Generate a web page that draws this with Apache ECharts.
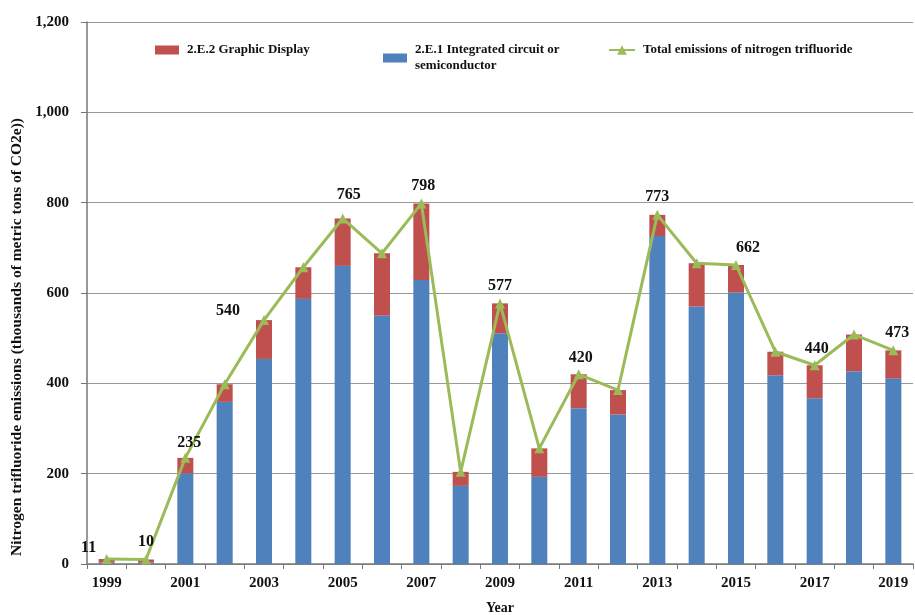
<!DOCTYPE html>
<html>
<head>
<meta charset="utf-8">
<script src="https://cdn.jsdelivr.net/npm/echarts@6/dist/echarts.min.js"></script>
<style>
  html, body { margin: 0; padding: 0; background: #fff; }
  #chart { width: 915px; height: 615px; }
</style>
</head>
<body>
<div id="chart"></div>
<script>
// years on the x axis
const years = ['1999', '2000', '2001', '2002', '2003', '2004', '2005', '2006', '2007', '2008', '2009',
  '2010', '2011', '2012', '2013', '2014', '2015', '2016', '2017', '2018', '2019']
// 2.E.1 Integrated circuit or semiconductor
const semiconductor = [3, 3, 201, 359, 454, 587, 660, 550, 629, 173, 511,
  193, 345, 331, 726, 570, 601, 418, 367, 427, 411]
// 2.E.2 Graphic Display
const graphicDisplay = [8, 7, 34, 39, 86, 70, 105, 138, 169, 31, 66,
  63, 75, 54, 47, 96, 61, 52, 73, 81, 62]
// total emissions of NF3
const totals = [11, 10, 235, 398, 540, 657, 765, 688, 798, 204, 577,
  256, 420, 385, 773, 666, 662, 470, 440, 508, 473]
// years that carry a value label
const labelledYears = ['1999', '2000', '2001', '2003', '2005', '2007', '2009', '2011', '2013', '2015', '2017', '2019']
// y axis ticks
const yTicks = [0, 200, 400, 600, 800, 1000, 1200]

const serif = '"Liberation Serif", "DejaVu Serif", serif'

// little nudges so labels sit where the original puts them
const labelOffset = {
  '1999': [-18, 7], '2000': [0, 0], '2001': [4, 3], '2003': [-36, 9], '2005': [6, -6],
  '2007': [2, 0], '2009': [0, 0], '2011': [2, 2], '2013': [0, 0], '2015': [12, 1],
  '2017': [2, 2], '2019': [4, 0]
}

const lineData = totals.map((v, i) => {
  const y = years[i]
  if (labelledYears.indexOf(y) < 0) return v
  return {
    value: v,
    label: {
      show: true,
      position: 'top',
      distance: 5,
      offset: labelOffset[y] || [0, 0],
      formatter: '{c}',
      color: '#111',
      fontFamily: serif,
      fontWeight: 'bold',
      fontSize: 16
    }
  }
})

const legendText = {
  fontFamily: serif,
  fontWeight: 'bold',
  fontSize: 13,
  color: '#111',
  lineHeight: 16,
  padding: [0, 0, 0, 3]
}

let myChart = echarts.init(document.getElementById('chart'))
const option = {
  animation: false,
  backgroundColor: '#fff',
  grid: {
    left: 87,
    right: 2,
    top: 22,
    bottom: 51,
    containLabel: false,
    outerBoundsMode: 'none'
  },
  legend: [
    {
      data: [{ name: '2.E.2 Graphic Display', icon: 'rect' }],
      left: 150, top: 37,
      itemWidth: 24, itemHeight: 9, itemGap: 8,
      textStyle: legendText
    },
    {
      data: [{ name: '2.E.1 Integrated circuit or\nsemiconductor', icon: 'rect' }],
      left: 378, top: 37,
      itemWidth: 24, itemHeight: 9, itemGap: 8,
      textStyle: legendText
    },
    {
      data: ['Total emissions of nitrogen trifluoride'],
      left: 603, top: 37,
      itemWidth: 26, itemHeight: 12, itemGap: 8,
      textStyle: legendText
    }
  ],
  graphic: [
    {
      type: 'text',
      left: 9,
      top: 118,
      rotation: Math.PI / 2,
      style: {
        text: 'Nitrogen trifluoride emissions (thousands of metric tons of CO2e))',
        font: 'bold 15.5px ' + serif,
        fill: '#111'
      }
    }
  ],
  xAxis: {
    type: 'category',
    data: years,
    boundaryGap: true,
    name: 'Year',
    nameLocation: 'middle',
    nameGap: 37,
    nameTextStyle: { fontFamily: serif, fontWeight: 'bold', fontSize: 14, color: '#111' },
    axisLine: { lineStyle: { color: '#777', width: 1.5 } },
    axisTick: { show: true, interval: 0, length: 5, lineStyle: { color: '#777' } },
    axisLabel: {
      interval: 1,
      margin: 12,
      fontFamily: serif,
      fontWeight: 'bold',
      fontSize: 15,
      color: '#111'
    }
  },
  yAxis: {
    type: 'value',
    min: yTicks[0],
    max: yTicks[yTicks.length - 1],
    interval: yTicks[1] - yTicks[0],
    axisLine: { show: true, lineStyle: { color: '#777', width: 1.5 } },
    axisTick: { show: true, length: 6, lineStyle: { color: '#777' } },
    axisLabel: {
      margin: 18,
      fontFamily: serif,
      fontWeight: 'bold',
      fontSize: 15,
      color: '#111',
      formatter: v => v.toLocaleString('en-US')
    },
    splitLine: { show: true, lineStyle: { color: '#999', width: 1.2 } }
  },
  series: [
    {
      name: '2.E.1 Integrated circuit or\nsemiconductor',
      type: 'bar',
      stack: 'nf3',
      barWidth: 16,
      itemStyle: { color: '#4F81BD' },
      data: semiconductor
    },
    {
      name: '2.E.2 Graphic Display',
      type: 'bar',
      stack: 'nf3',
      barWidth: 16,
      itemStyle: { color: '#C0504D' },
      data: graphicDisplay
    },
    {
      name: 'Total emissions of nitrogen trifluoride',
      type: 'line',
      symbol: 'triangle',
      symbolSize: 10,
      lineStyle: { color: '#9BBB59', width: 3 },
      itemStyle: { color: '#9BBB59' },
      data: lineData
    }
  ]
}
myChart.setOption(option)
</script>
</body>
</html>
